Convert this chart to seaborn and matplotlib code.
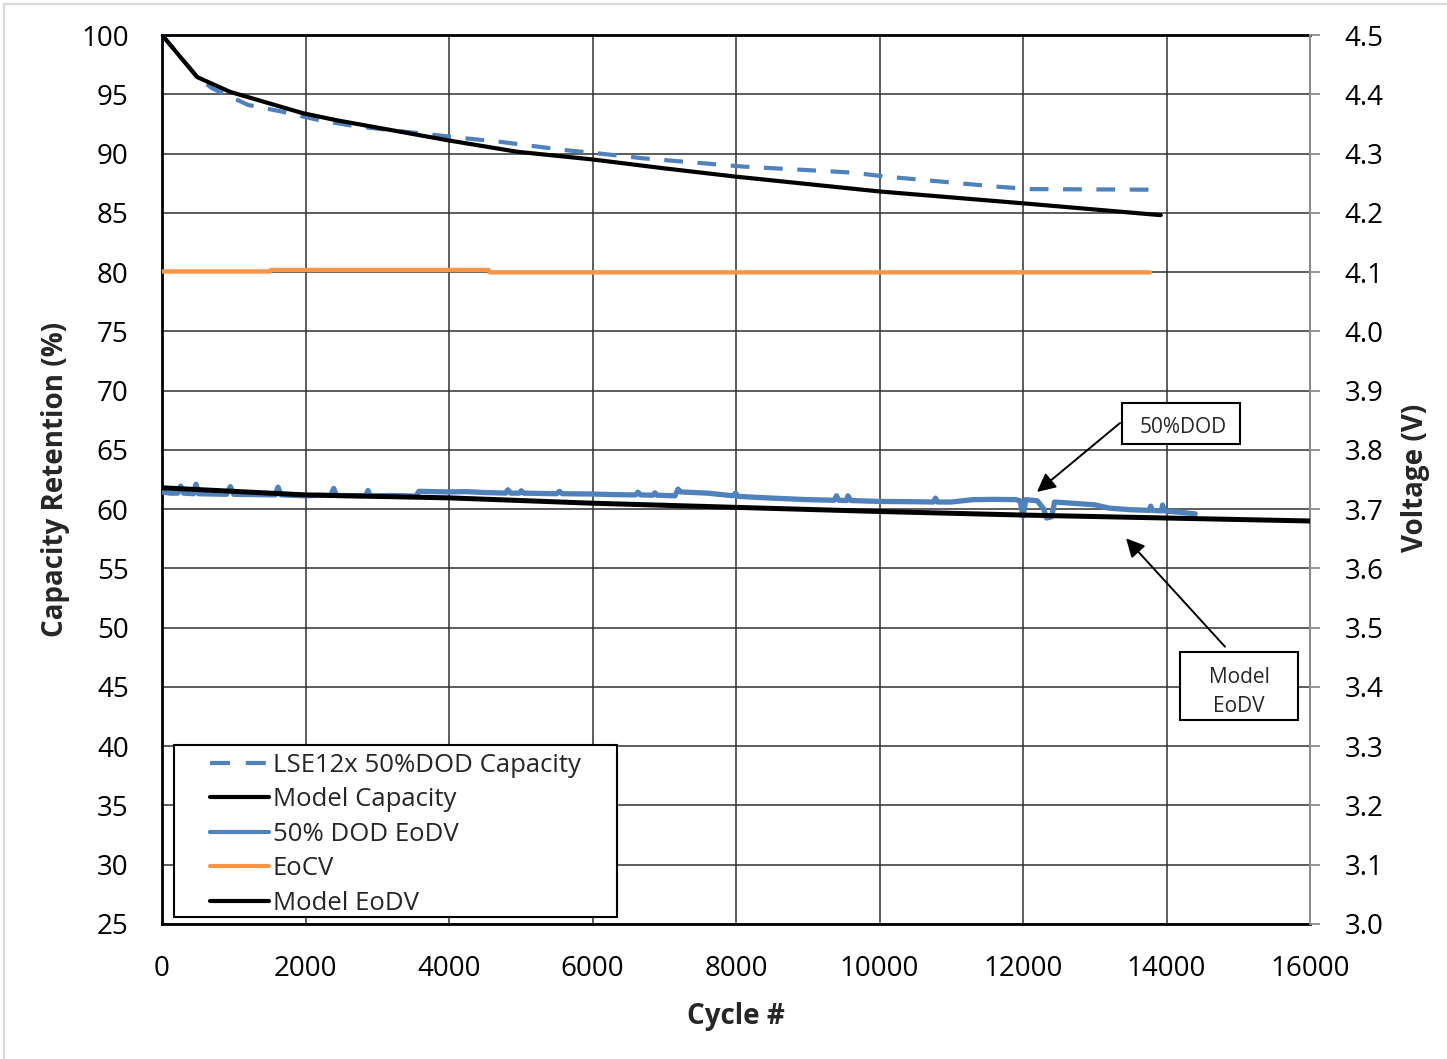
import matplotlib
matplotlib.use("Agg")
import matplotlib.pyplot as plt
from matplotlib.lines import Line2D
from matplotlib.patches import Rectangle
import seaborn as sns

# ---- data -----------------------------------------------------------------
# capacity retention (%) on the left axis
cap_cycles = [0, 500, 700, 1200, 1700, 2200, 2700, 3600, 4200, 4700, 5600,
              6100, 6700, 8100, 9600, 10100, 11650, 12100, 13750]
cap_meas = [100.0, 96.4, 95.5, 94.1, 93.5, 92.8, 92.3, 91.7, 91.3, 91.0, 90.3,
            90.0, 89.6, 88.9, 88.4, 88.05, 87.2, 87.0, 86.95]

model_cap_cycles = [0, 490, 950, 1965, 2440, 4000, 4950, 6000, 7000, 8000,
                    10000, 12000, 13920]
model_cap = [100.0, 96.45, 95.2, 93.4, 92.8, 91.1, 90.15, 89.5, 88.75, 88.05,
             86.8, 85.8, 84.8]

# voltages (V) on the right axis
eodv_cycles = [0, 120, 220, 260, 300, 440, 474, 510, 700, 900, 953, 1000,
               1300, 1580, 1617, 1660, 2000, 2200, 2350, 2393, 2430, 2840,
               2871, 2900, 3200, 3540, 3580, 4000, 4250, 4500, 4790, 4820,
               4860, 4980, 5006, 5040, 5250, 5500, 5540, 5580, 6000, 6300,
               6600, 6634, 6670, 6840, 6871, 6900, 7150, 7192, 7230, 7600,
               7960, 7993, 8030, 8500, 9000, 9370, 9400, 9430, 9540, 9560,
               9600, 10000, 10500, 10750, 10780, 10810, 11000, 11300, 11600,
               11900, 11960, 12000, 12040, 12200, 12290, 12330, 12400, 12440,
               12800, 13000, 13200, 13500, 13760, 13780, 13800, 13930, 13945,
               13970, 14200, 14400]
eodv_volts = [3.729, 3.727, 3.727, 3.739, 3.727, 3.726, 3.742, 3.726, 3.7255,
              3.725, 3.738, 3.725, 3.7245, 3.724, 3.737, 3.724, 3.7225,
              3.7235, 3.723, 3.735, 3.723, 3.7225, 3.7315, 3.7225, 3.723,
              3.722, 3.730, 3.729, 3.7295, 3.728, 3.727, 3.7326, 3.727,
              3.727, 3.731, 3.727, 3.7265, 3.726, 3.730, 3.726, 3.7255,
              3.7245, 3.724, 3.7287, 3.724, 3.7235, 3.7276, 3.7235, 3.7225,
              3.7337, 3.729, 3.727, 3.7225, 3.727, 3.7215, 3.7186, 3.716,
              3.715, 3.7225, 3.715, 3.7145, 3.7225, 3.7145, 3.713, 3.7125,
              3.712, 3.7186, 3.712, 3.712, 3.716, 3.7165, 3.716, 3.714, 3.688,
              3.716, 3.714, 3.700, 3.685, 3.687, 3.712, 3.709, 3.7073, 3.7017,
              3.699, 3.698, 3.705, 3.698, 3.697, 3.707, 3.697, 3.6945, 3.692]

eocv_cycles = [0, 1500, 1520, 4550, 4570, 13770]
eocv_volts = [4.101, 4.101, 4.1035, 4.1035, 4.0995, 4.0995]

model_eodv_cycles = [0, 2000, 4000, 6000, 8000, 10000, 12000, 14000, 16000]
model_eodv = [3.736, 3.724, 3.719, 3.710, 3.703, 3.696, 3.690, 3.685, 3.680]

series_labels = ["LSE12x 50%DOD Capacity", "Model Capacity", "50% DOD EoDV",
                 "EoCV", "Model EoDV"]

x_ticks = list(range(0, 16001, 2000))
cap_ticks = list(range(25, 101, 5))
volt_ticks = [3.0, 3.1, 3.2, 3.3, 3.4, 3.5, 3.6, 3.7, 3.8, 3.9, 4.0, 4.1,
              4.2, 4.3, 4.4, 4.5]

# ---- style ----------------------------------------------------------------
sns.set_style("white")
plt.rcParams["font.family"] = ["Open Sans", "DejaVu Sans"]

BLUE = "#4F81BD"
ORANGE = "#F79646"
TICK_FS = 20
LABEL_FS = 20

fig = plt.figure(figsize=(14.47, 10.59), dpi=100)
ax = fig.add_axes([162 / 1447, 1 - 924 / 1059, 1148 / 1447, 889 / 1059])
ax2 = ax.twinx()

# ---- left axis: capacity ---------------------------------------------------
sns.lineplot(x=cap_cycles, y=cap_meas, ax=ax, color=BLUE, lw=3.0,
             linestyle=(0, (4.5, 3.5)), estimator=None, sort=False, zorder=3)
sns.lineplot(x=model_cap_cycles, y=model_cap, ax=ax, color="black", lw=3.0,
             estimator=None, sort=False, zorder=4)

# ---- right axis: voltages --------------------------------------------------
sns.lineplot(x=eodv_cycles, y=eodv_volts, ax=ax2, color=BLUE, lw=3.8,
             estimator=None, sort=False, zorder=3)
sns.lineplot(x=eocv_cycles, y=eocv_volts, ax=ax2, color=ORANGE, lw=3.2,
             estimator=None, sort=False, zorder=3)
sns.lineplot(x=model_eodv_cycles, y=model_eodv, ax=ax2, color="black", lw=3.6,
             estimator=None, sort=False, zorder=4)

ax.set_xlim(0, 16000)
ax.set_ylim(25, 100)
ax2.set_ylim(3.0, 4.5)
ax.set_xticks(x_ticks)
ax.set_xticklabels([str(t) for t in x_ticks])
ax.set_yticks(cap_ticks)
ax.set_yticklabels([str(t) for t in cap_ticks])
ax2.set_yticks(volt_ticks)
ax2.set_yticklabels([f"{v:.1f}" for v in volt_ticks])

ax.grid(True, color="#303030", lw=1.1)
ax.set_axisbelow(True)
ax2.grid(False)

ax.tick_params(axis="both", which="both", length=0, labelsize=TICK_FS,
               colors="black")
ax.tick_params(axis="y", pad=24)
ax.tick_params(axis="x", pad=22)
ax2.tick_params(axis="y", direction="out", length=7, width=1.3,
                color="#8c8c8c", labelsize=TICK_FS, pad=18, labelcolor="black")

for side in ("left", "top", "bottom"):
    ax.spines[side].set_color("black")
    ax.spines[side].set_linewidth(2.0)
    ax2.spines[side].set_visible(False)
ax.spines["right"].set_visible(False)
ax2.spines["right"].set_color("#8c8c8c")
ax2.spines["right"].set_linewidth(1.5)

ax.set_xlabel("Cycle #", fontsize=LABEL_FS, fontweight="bold")
ax.set_ylabel("Capacity Retention (%)", fontsize=LABEL_FS, fontweight="bold")
ax2.set_ylabel("Voltage (V)", fontsize=LABEL_FS, fontweight="bold",
               rotation=90)
ax.xaxis.set_label_coords(0.5, -0.1046)
ax.yaxis.set_label_coords(-0.0932, 0.50)
ax2.yaxis.set_label_coords(1.0915, 0.502)
for lab in (ax.xaxis.label, ax.yaxis.label, ax2.yaxis.label):
    lab.set_verticalalignment("center")
    lab.set_horizontalalignment("center")

# ---- legend ----------------------------------------------------------------
handles = [
    Line2D([], [], color=BLUE, lw=3.0, linestyle=(0, (4.8, 3.8))),
    Line2D([], [], color="black", lw=3.0),
    Line2D([], [], color=BLUE, lw=3.0),
    Line2D([], [], color=ORANGE, lw=3.0),
    Line2D([], [], color="black", lw=3.0),
]
ax2.add_patch(Rectangle((0.0105, 0.0079), 0.386, 0.1935,
                        transform=ax2.transAxes, facecolor="white",
                        edgecolor="black", lw=1.5, zorder=20))
leg = ax2.legend(handles, series_labels, loc="upper left",
                 bbox_to_anchor=(0.0418, 0.1925), frameon=False,
                 fontsize=18.5, handlelength=2.3, handletextpad=0.15,
                 labelspacing=0.37, borderpad=0, borderaxespad=0)
leg.set_zorder(21)

# ---- callouts --------------------------------------------------------------
arrow_kw = dict(arrowstyle="-|>", color="black", lw=1.4, mutation_scale=28,
                shrinkA=0, shrinkB=0)
ax2.annotate("", xy=(12195, 3.729), xytext=(13352, 3.8453),
             arrowprops=arrow_kw, zorder=10)
ax2.annotate("", xy=(13436, 3.6508), xytext=(14815, 3.4679),
             arrowprops=arrow_kw, zorder=10)

ax2.add_patch(Rectangle((13380, 3.8092), 1645, 0.0703, facecolor="white",
                        edgecolor="black", lw=1.5, zorder=11))
ax2.text(14230, 3.838, "50%DOD", ha="center", va="center", fontsize=15,
         zorder=12)
ax2.add_patch(Rectangle((14185, 3.3442), 1645, 0.1147, facecolor="white",
                        edgecolor="black", lw=1.5, zorder=11))
ax2.text(15010, 3.392, "Model\nEoDV", ha="center", va="center", fontsize=15,
         linespacing=1.5, zorder=12)

# thin chart-area border along the top and left edges
fig.add_artist(Line2D([4 / 1447, 4 / 1447], [0, 1 - 4 / 1059],
                      transform=fig.transFigure, color="#d9d9d9", lw=1.6))
fig.add_artist(Line2D([4 / 1447, 1], [1 - 4 / 1059, 1 - 4 / 1059],
                      transform=fig.transFigure, color="#d9d9d9", lw=1.6))

fig.savefig("out.png", dpi=100, facecolor="white")
